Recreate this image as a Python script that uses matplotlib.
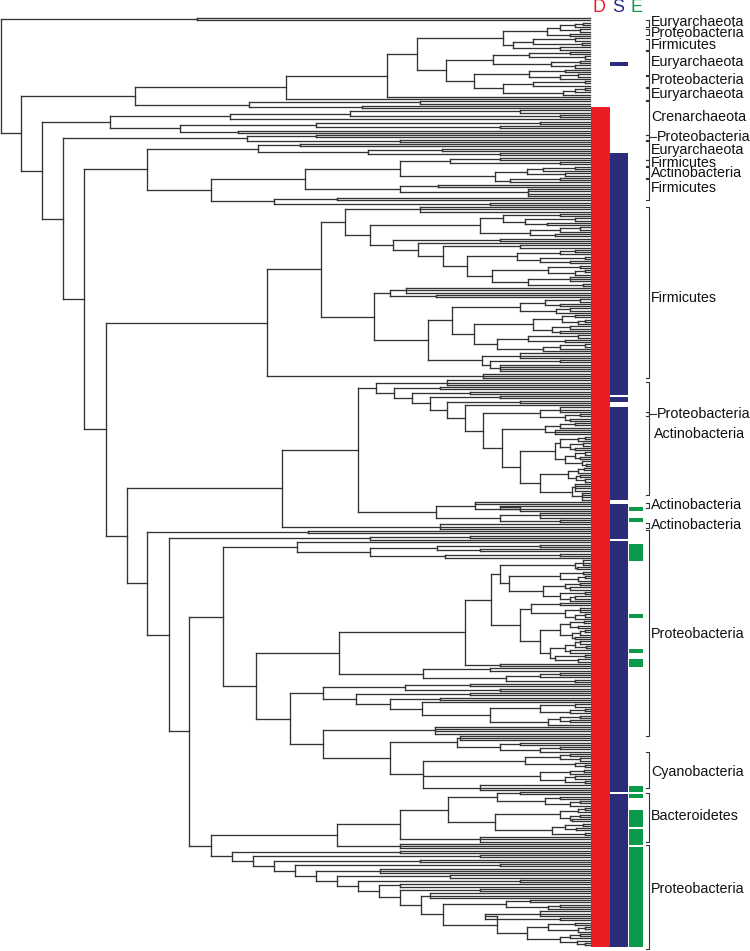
import re
import numpy as np
import matplotlib
matplotlib.use("Agg")
import matplotlib.pyplot as plt
from matplotlib.collections import LineCollection

# ---------------- data ----------------
# Tree written as nested groups: "(child,child,...)X" = internal node at depth X,
# "n@X" = n leaves joined at depth X, "1" = a single leaf.
S0 = "2@197"
T_top = "((((2@583,1)575,2@580)560,2@570)547,((2@575,2@582)533,2@560)513)503"
U_top = ("(((2@570,2@585)529,(2@580,2@575)551)493,((2@565,(2@578,1)560)529,"
         "((2@585,1)533,((2@585,1)575,1)563)503)474)446")
S1 = "(((" + T_top + "," + U_top + ")417,1)387,1)286"
S2 = "(2@420,(1,1)362)249"
C1 = "(((2@520,2@560)350,1)230,((2@540,2@500)316,2@238)180)110"
D1 = "(2@316,2@400)247"
E1b = "(((2@500,2@560)450,(((2@575,1)543,2@565)527,(2@560,1)510)495)400,(2@438,4@528)400)305"
E1 = "((2@300,(2@442,2@500)368)258,(" + E1b + ",(2@337,2@490)274)211)147"
A1 = "((2@560,(2@575,2@547)525)503,((2@580,1)560,2@555)530)480"
A3 = "(((2@575,1)560,(2@585,2@570)540)517,((2@580,(2@585,1)575)548,(3@570,2@583)528)492)467"
A2 = "(2@500,(1,(2@520," + A3 + ")443)418)393"
H1 = "(3@420,(" + A1 + "," + A2 + ")370)345"
H2 = ("((3@406,2@436)390,((((2@580,2@560)545,(2@570,1)556)520,"
      "(((2@575,(2@585,1)578)562,(2@570,2@560)552)533,((2@578,2@565)528,((2@585,1)560,1)543)497)474)452,"
      "(3@520,(2@560,4@500)490)482)428)374")
G = "((" + H1 + "," + H2 + ")321,3@483)267"
Jfine = ("((((2@585,1)578,(2@583,2@575)570)560,((2@585,2@580)575,(1,2@586)582)565)555,"
         "(((2@584,1)578,(2@580,2@585)576)568,(4@575,4@582)572)540)520")
Jdeep = "((3@560,(2@580,2@570)565)540,(((2@575,1)560,3@555)545," + Jfine + ")502)483"
Jtop = "(3@447,(2@440,(2@470,(2@500,(2@520,(1," + Jdeep + ")465)447)430)412)394)376"
J = "(" + Jtop + ",((2@475,(2@500,1)520)475,(3@540,2@560)500)436)358"
Ntop = "(1,((2@540,2@480)437,(2@560,1)445)370)297"
x491 = ("(((3@583,2@577)575,((2@583,(2@585,1)578)560,((2@580,2@570)565,(2@585,(2@575,1)570)560)543)509)500,"
        "((2@560,(3@580,(2@585,1)575)565)531,(((2@584,2@578)570,((2@585,1)580,2@575)572)560,"
        "(((2@580,2@586)575,2@570)565,(2@585,2@578)555)550)540)520)491")
Otop = "((" + x491 + ",2@500)465,(2@490,((2@560,1)540,2@575)506)423)339"
top323 = ("((2@470,2@500)405,(2@470,(2@440,(1,((2@575,(2@585,1)570)540,"
          "((2@580,2@570)560,1)548)490)422)390)356)323")
x390 = ("((3@460,(2@520,(2@560,1)540)500)457,(((2@570,2@580)560,(1,2@585)575)525,"
        "((2@584,1)570,(2@575,2@585)565)540,3@480)423)390")
Obot = "(" + top323 + ",(4@435," + x390 + ")323)290"
x448 = ("((2@520,(2@560,(2@580,1)570)545)497,(((2@585,1)578,(2@580,2@572)570)560,"
        "((2@583,2@576)565,2@585)552)495)448")
x337 = "((" + x448 + ",3@480)400,3@400)337"
x443 = ("((2@530,(2@560,1)548)506,((3@540,2@560)485,((2@575,(2@585,1)578)548,"
        "((2@580,1)570,(1,2@585)577)560)527)497)443")
ladder = ("(2@400,(2@480,(2@420,(2@500,(3@380,(2@450,(2@520,(2@400,(2@480,(3@430,"
          + x443 + ")421)400)379)358)337)316)295)274)253)232")
P = "(" + x337 + "," + ladder + ")211"
O = "(" + Otop + "," + Obot + ")256"
N = "(" + Ntop + "," + O + ")223"
M = "(" + N + "," + P + ")189"
L = "((2@470,1)370," + M + ")169"
K = "(2@308," + L + ")147"
I1 = "(" + J + ",3@440)282"
I = "(" + I1 + "," + K + ")127"
F = "(" + G + "," + I + ")106"
E = "(" + E1 + "," + F + ")84"
D = "(" + D1 + "," + E + ")63"
C = "(" + C1 + "," + D + ")42"
B = "(" + S1 + "," + S2 + ")135"
A = "(" + B + "," + C + ")21"
TREE = "(" + S0 + "," + A + ")1"

# colour bars (vertical extents)
D_bar = [(107, 947)]
S_bar = [(62, 66), (153, 395), (397, 402), (407, 500), (504, 539), (541, 792), (794, 947)]
E_bar = [(507, 511), (518, 522), (544, 561), (614, 618), (649, 653), (659, 667),
         (786, 792), (794, 798), (810, 827), (829, 845), (847, 947)]

# clade labels: text, bracket top, bracket bottom, text position
labels = ["Euryarchaeota", "Proteobacteria", "Firmicutes", "Euryarchaeota", "Proteobacteria",
          "Euryarchaeota", "Crenarchaeota", "Proteobacteria", "Euryarchaeota", "Firmicutes",
          "Actinobacteria", "Firmicutes", "Firmicutes", "Actinobacteria", "Proteobacteria",
          "Actinobacteria", "Actinobacteria", "Proteobacteria", "Cyanobacteria",
          "Bacteroidetes", "Proteobacteria"]
br_top = [20, 29, 39, 51, 76, 88, 101, 135, 141, 160, 167, 179, 207, 382, 412, 503, 523, 530, 752, 793, 845]
br_bot = [27, 35, 50, 75, 87, 100, 135, 140, 160, 166, 178, 200, 378, 495, 416, 508, 528, 736, 788, 842, 949]
lab_y = [22, 33, 45, 62, 80, 94, 117, 137, 150, 163, 173, 188, 298, 434, 414, 505, 525, 634, 772, 816, 889]

header = ["D", "S", "E"]

# ---------------- style ----------------
TIP = 590
RED, NAVY, GREEN = "#ec1c24", "#2b2c7a", "#0b9a4b"
LINE = "#333333"
plt.rcParams['font.family'] = ['Liberation Sans', 'DejaVu Sans']


def parse(s):
    pos = 0

    def node():
        nonlocal pos
        if s[pos] == '(':
            pos += 1
            kids = [node()]
            while s[pos] == ',':
                pos += 1
                kids.append(node())
            assert s[pos] == ')'
            pos += 1
            m = re.match(r'\d+(\.\d+)?', s[pos:])
            pos += len(m.group())
            return ('int', float(m.group()), kids)
        m = re.match(r'(\d+)(@(\d+))?', s[pos:])
        pos += len(m.group())
        n = int(m.group(1))
        x = float(m.group(3)) if m.group(3) else TIP
        return ('grp', x, n)

    return node()


def count(nd):
    if nd[0] == 'grp':
        return nd[2]
    return sum(count(k) for k in nd[2])


root = parse(TREE)
NL = count(root)
leaf_y = np.linspace(18, 945, NL)
segs = []
cursor = [0]


def draw(nd):
    if nd[0] == 'grp':
        x, n = nd[1], nd[2]
        ys = leaf_y[cursor[0]:cursor[0] + n]
        cursor[0] += n
        for y in ys:
            segs.append([(x, y), (TIP, y)])
        if n > 1:
            segs.append([(x, ys[0]), (x, ys[-1])])
        return x, (ys[0] + ys[-1]) / 2
    x = nd[1]
    pts = [draw(k) for k in nd[2]]
    segs.append([(x, pts[0][1]), (x, pts[-1][1])])
    for cx, cy in pts:
        segs.append([(x, cy), (cx, cy)])
    return x, (pts[0][1] + pts[-1][1]) / 2


rx, ry = draw(root)

fig = plt.figure(figsize=(7.5, 9.51), dpi=100)
ax = fig.add_axes([0, 0, 1, 1])
ax.set_xlim(0, 750)
ax.set_ylim(951, 0)
ax.axis('off')

ax.add_collection(LineCollection(segs, colors=LINE, linewidths=0.95, capstyle='projecting'))

for (a, b) in D_bar:
    ax.add_patch(plt.Rectangle((591, a), 18.5, b - a, color=RED, lw=0))
for (a, b) in S_bar:
    ax.add_patch(plt.Rectangle((609.5, a), 18.5, b - a, color=NAVY, lw=0))
for (a, b) in E_bar:
    ax.add_patch(plt.Rectangle((628.5, a), 14.5, b - a, color=GREEN, lw=0))

for t, c, xx in zip(header, [RED, NAVY, GREEN], [599, 618, 637]):
    ax.text(xx, 8, t, color=c, fontsize=13, ha='center', va='center')

BX = 648.5
for t, a, b, ly in zip(labels, br_top, br_bot, lab_y):
    ax.plot([BX - 3, BX, BX, BX - 3], [a, a, b, b], color=LINE, lw=0.8)
    tx = 651
    if t == "Proteobacteria" and b - a < 6:
        ax.plot([BX, BX + 7], [ly, ly], color=LINE, lw=0.8)
        tx = 657
    elif t == "Actinobacteria" and b - a > 50:
        tx = 654
    ax.text(tx, ly, t, fontsize=10.3, ha='left', va='center', color='#111111')

fig.savefig("out.png", dpi=100)
